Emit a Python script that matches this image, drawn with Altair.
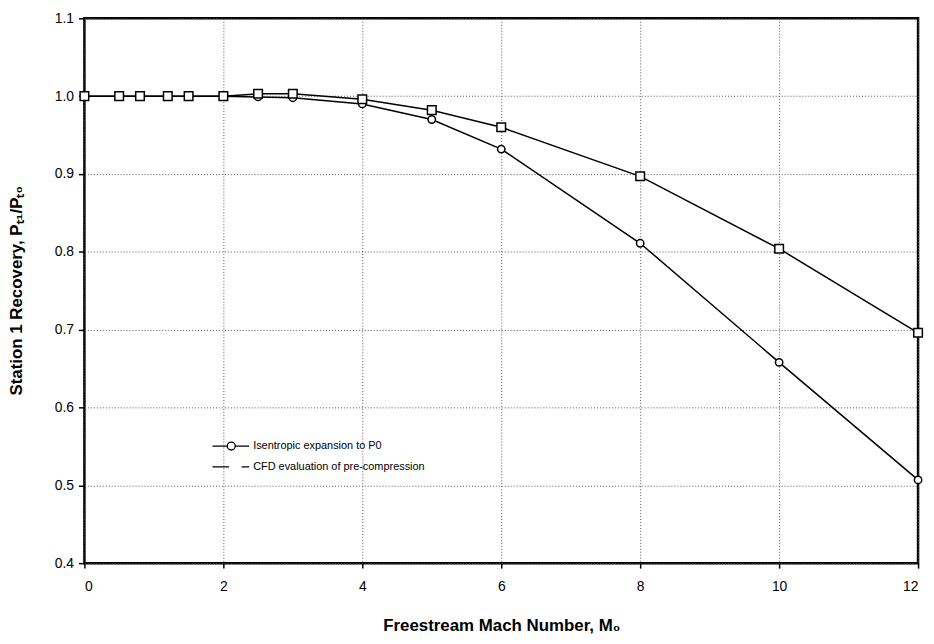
import altair as alt
import pandas as pd

# ---- data ----
mach = [0, 0.5, 0.8, 1.2, 1.5, 2, 2.5, 3, 4, 5, 6, 8, 10, 12]
isentropic = [1.0, 1.0, 1.0, 1.0, 1.0, 1.0, 0.999, 0.998, 0.990, 0.970, 0.932, 0.811, 0.658, 0.507]
cfd = [1.0, 1.0, 1.0, 1.0, 1.0, 1.0, 1.003, 1.003, 0.996, 0.982, 0.960, 0.897, 0.804, 0.696]
series_names = ["Isentropic expansion to P0", "CFD evaluation of pre-compression"]
x_ticks = [0, 2, 4, 6, 8, 10, 12]
y_ticks = [0.4, 0.5, 0.6, 0.7, 0.8, 0.9, 1.0, 1.1]

rows = []
for m, v in zip(mach, isentropic):
    rows.append({"mach": m, "value": v, "series": series_names[0]})
for m, v in zip(mach, cfd):
    rows.append({"mach": m, "value": v, "series": series_names[1]})
df = pd.DataFrame(rows)

FONT = "Liberation Sans"

x_enc = alt.X(
    "mach:Q",
    scale=alt.Scale(domain=[0, 12], nice=False, zero=False),
    axis=alt.Axis(
        values=x_ticks,
        format="d",
        title="Freestream Mach Number, M\u2080",
        titleFont=FONT,
        titleFontSize=17,
        titleFontWeight="bold",
        titleColor="black",
        titleY=68,
        titleBaseline="alphabetic",
        labelFont=FONT,
        labelFontSize=14,
        labelColor="black",
        labelPadding=12,
        tickSize=5,
        tickColor="black",
        tickWidth=1.5,
        domain=False,
        grid=True,
        gridColor="#555555",
        gridDash=[1, 2],
        gridWidth=1,
    ),
)
y_enc = alt.Y(
    "value:Q",
    scale=alt.Scale(domain=[0.4, 1.1], nice=False, zero=False),
    axis=alt.Axis(
        values=y_ticks,
        format=".1f",
        title="Station 1 Recovery, P\u209c\u2081/P\u209c\u2080",
        titleFont=FONT,
        titleFontSize=17,
        titleFontWeight="bold",
        titleColor="black",
        titleX=-59,
        titleY=274,
        titleAngle=-90,
        titleAlign="center",
        titleBaseline="bottom",
        labelFont=FONT,
        labelFontSize=14,
        labelColor="black",
        labelPadding=5,
        tickSize=6,
        tickColor="black",
        tickWidth=1.5,
        domain=False,
        grid=True,
        gridColor="#555555",
        gridDash=[1, 2],
        gridWidth=1,
    ),
)

base = alt.Chart(df)

lines = base.mark_line(color="black", strokeWidth=1.5).encode(
    x=x_enc, y=y_enc, detail="series:N"
)

circles = base.transform_filter(
    alt.datum.series == series_names[0]
).mark_point(shape="circle", size=55, fill="white", filled=True, stroke="black", strokeWidth=1.5, opacity=1).encode(
    x="mach:Q", y="value:Q"
)

squares = base.transform_filter(
    alt.datum.series == series_names[1]
).mark_point(shape="square", size=75, fill="white", filled=True, stroke="black", strokeWidth=1.5, opacity=1).encode(
    x="mach:Q", y="value:Q"
)

# legend symbols as custom paths (line with circle; broken dashed line)
path_circle = "M-1,0H1.14 M2.28,0H4.29 M1.14,0A0.57,0.57 0 1,0 2.28,0A0.57,0.57 0 1,0 1.14,0"
path_dash = "M-1,0H1.4 M3.2,0H4.29"

legend_layer = base.transform_filter("false").mark_point().encode(
    x="mach:Q",
    y="value:Q",
    shape=alt.Shape(
        "series:N",
        scale=alt.Scale(domain=series_names, range=[path_circle, path_dash]),
        legend=alt.Legend(
            title=None,
            orient="none",
            legendX=128,
            legendY=423,
            symbolSize=196,
            symbolStrokeColor="black",
            symbolStrokeWidth=1.3,
            symbolFillColor="white",
            symbolOpacity=1,
            labelFont=FONT,
            labelFontSize=11,
            labelColor="black",
            labelOffset=26,
            labelLimit=0,
            rowPadding=6,
        ),
    ),
)

chart = alt.layer(lines, circles, squares, legend_layer).properties(
    width=840,
    height=549,
    autosize=alt.AutoSizeParams(type="none"),
    padding={"left": 77, "top": 8, "right": 8, "bottom": 71},
    background="white",
).configure_view(
    stroke="black",
    strokeWidth=2.5,
)

chart.save("out.html", embed_options={"renderer": "svg", "actions": False})
